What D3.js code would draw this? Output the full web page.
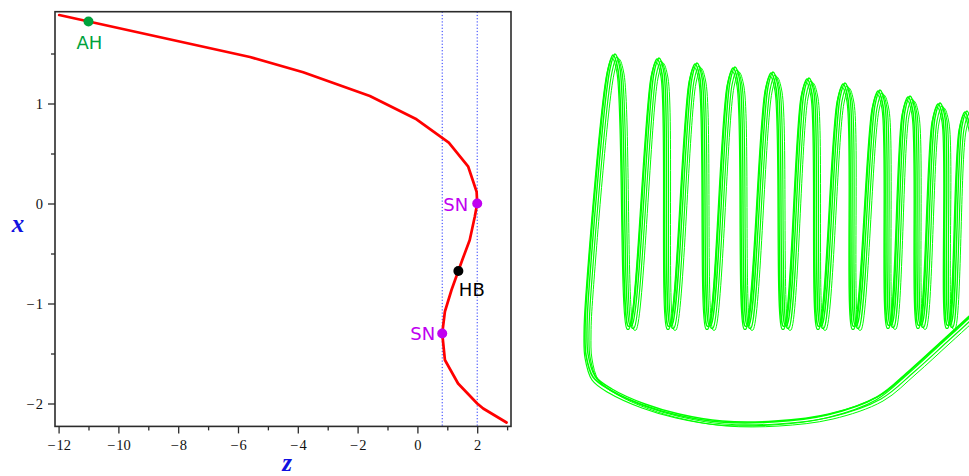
<!DOCTYPE html>
<html>
<head>
<meta charset="utf-8">
<script src="https://cdn.jsdelivr.net/npm/d3@7"></script>
<style>
  html, body { margin: 0; padding: 0; background: #fff; }
  svg { display: block; }
</style>
</head>
<body>
<svg id="chart" width="969" height="476"></svg>
<script>
// ---- Equilibrium branch: x as a function of the parameter z ----
const branchZ = [-11.98, -5.60, -3.82, -1.59, -0.03, 1.05, 1.70, 1.98, 2.00, 1.92, 1.75, 1.50, 1.14, 0.92, 0.83, 0.92, 1.36, 2.00, 2.20, 2.98];
const branchX = [1.885, 1.465, 1.312, 1.075, 0.842, 0.608, 0.368, 0.118, 0.000, -0.130, -0.365, -0.565, -0.865, -1.080, -1.300, -1.565, -1.800, -2.000, -2.050, -2.190];

// Special points on the branch
const pointNames = ["AH", "SN", "HB", "SN"];
const pointZ = [-11.0, 2.0, 1.37, 0.83];
const pointX = [1.82, 0.0, -0.675, -1.30];

// Vertical guides through the two saddle-node values
const guideZ = [0.83, 2.0];

// Axis ticks
const xMajorTicks = [-12, -10, -8, -6, -4, -2, 0, 2];
const xMinorTicks = [-11, -9, -7, -5, -3, -1, 1, 3];
const yMajorTicks = [-2, -1, 0, 1];
const yMinorTicks = [-1.5, -0.5, 0.5, 1.5];

// ---- Relaxation-oscillation trajectory (phase portrait, arbitrary units) ----
const peakU   = [29, 73, 111, 149, 187, 223, 259, 294, 324, 354, 381];
const peakV   = [369, 365, 360, 356, 351, 345, 340, 333, 327, 320, 312];
const troughU = [44, 84, 123, 161, 199, 234, 269, 304, 334, 363];
const troughV = [98, 98, 98, 98, 98, 98, 98, 99, 99, 99];
const returnU = [406, 401, 383, 359, 326, 293, 243, 189, 136, 93, 59, 26, 9, 2, 1, 3];
const returnV = [174, 124, 106, 84, 54, 27, 9, 2, 2, 9, 19, 34, 47, 69, 94, 134];

const svg = d3.select("#chart");

// ================= Left panel =================
const frame = { left: 55, right: 511, top: 11.7, bottom: 426.4 };
const xS = d3.scaleLinear().domain([-12.12, 3.13]).range([frame.left, frame.right]);
const yS = d3.scaleLinear().domain([-2.229, 1.918]).range([frame.bottom, frame.top]);

const axisColor = "#2b2b2b";
const tickFont = "'Liberation Serif', 'Times New Roman', serif";
const fmt = v => v < 0 ? "\u2212\u200a" + Math.abs(v) : String(v);

const left = svg.append("g");

const xAxis = d3.axisBottom(xS).tickValues(xMajorTicks).tickSize(7).tickPadding(6).tickFormat(fmt);
const xAxisMinor = d3.axisBottom(xS).tickValues(xMinorTicks).tickSize(4).tickFormat("");
const yAxis = d3.axisLeft(yS).tickValues(yMajorTicks).tickSize(7).tickPadding(5).tickFormat(fmt);
const yAxisMinor = d3.axisLeft(yS).tickValues(yMinorTicks).tickSize(4).tickFormat("");

function styleAxis(g) {
  g.select(".domain").remove();
  g.selectAll(".tick line").attr("stroke", axisColor).attr("stroke-width", 1.3);
  g.selectAll(".tick text")
    .attr("fill", "#111")
    .style("font-family", tickFont)
    .style("font-size", "14.5px");
}

left.append("g").attr("transform", `translate(0,${frame.bottom})`).call(xAxis).call(styleAxis);
left.append("g").attr("transform", `translate(0,${frame.bottom})`).call(xAxisMinor).call(styleAxis);
left.append("g").attr("transform", `translate(${frame.left},0)`).call(yAxis).call(styleAxis);
left.append("g").attr("transform", `translate(${frame.left},0)`).call(yAxisMinor).call(styleAxis);

// dotted guides
left.selectAll("line.guide").data(guideZ).join("line")
  .attr("class", "guide")
  .attr("x1", d => xS(d)).attr("x2", d => xS(d))
  .attr("y1", frame.top).attr("y2", frame.bottom)
  .attr("stroke", "#2233ff")
  .attr("stroke-width", 1)
  .attr("stroke-dasharray", "1.2,2");

// branch curve
const branch = branchZ.map((z, i) => [z, branchX[i]]);
left.append("path")
  .datum(branch)
  .attr("fill", "none")
  .attr("stroke", "#ff0000")
  .attr("stroke-width", 2.7)
  .attr("stroke-linejoin", "round")
  .attr("stroke-linecap", "round")
  .attr("d", d3.line().x(d => xS(d[0])).y(d => yS(d[1])));

// frame box
left.append("rect")
  .attr("x", frame.left).attr("y", frame.top)
  .attr("width", frame.right - frame.left).attr("height", frame.bottom - frame.top)
  .attr("fill", "none").attr("stroke", axisColor).attr("stroke-width", 1.6);

// special points and their labels
const pointColor = { AH: "#00a23c", SN: "#c000f0", HB: "#000000" };
const labelPlace = [
  { dx: 1, dy: 27, anchor: "middle" },
  { dx: -9, dy: 7, anchor: "end" },
  { dx: 0.5, dy: 25, anchor: "start" },
  { dx: -7, dy: 6, anchor: "end" }
];
const pts = pointNames.map((n, i) => ({ name: n, z: pointZ[i], x: pointX[i], place: labelPlace[i] }));

left.selectAll("circle.pt").data(pts).join("circle")
  .attr("class", "pt")
  .attr("cx", d => xS(d.z)).attr("cy", d => yS(d.x))
  .attr("r", 5)
  .attr("fill", d => pointColor[d.name]);

left.selectAll("text.pt").data(pts).join("text")
  .attr("class", "pt")
  .attr("x", d => xS(d.z) + d.place.dx)
  .attr("y", d => yS(d.x) + d.place.dy)
  .attr("text-anchor", d => d.place.anchor)
  .attr("fill", d => pointColor[d.name])
  .style("font-family", "'DejaVu Sans', sans-serif")
  .style("font-size", "18px")
  .text(d => d.name);

// axis titles
const titleStyle = sel => sel
  .attr("fill", "#1010e0")
  .style("font-family", tickFont)
  .style("font-weight", "bold")
  .style("font-style", "italic")
  .style("font-size", "25px");

left.append("text").attr("x", 287).attr("y", 471).attr("text-anchor", "middle").call(titleStyle).text("z");
left.append("text").attr("x", 18).attr("y", 232).attr("text-anchor", "middle").call(titleStyle).text("x");

// ================= Right panel =================
const uS = d3.scaleLinear().domain([0, 385]).range([584, 969]);
const vS = d3.scaleLinear().domain([0, 370]).range([424, 54]);

// one closed cycle: spikes from left to right, then the slow return arc
const cycle = [];
peakU.forEach((pu, i) => {
  const pv = peakV[i];
  cycle.push([pu - 5, pv - 15], [pu, pv], [pu + 5, pv - 15]);
  if (i < troughU.length) {
    cycle.push([troughU[i], troughV[i]], [troughU[i] + 2, troughV[i]]);
  }
});
returnU.forEach((u, i) => cycle.push([u, returnV[i]]));

const orbit = d3.line()
  .x(d => uS(d[0])).y(d => vS(d[1]))
  .curve(d3.curveCatmullRomClosed.alpha(0.5));

// several nearby passes of the orbit
const passes = [[0, 0, 1.6], [4, 2, 1.2], [2, -1, 1.4], [-1, 3, 1.2], [6, 4, 1.0]];
svg.append("g").selectAll("path").data(passes).join("path")
  .attr("transform", d => `translate(${d[0]},${d[1]})`)
  .attr("d", orbit(cycle))
  .attr("fill", "none")
  .attr("stroke", "#00ff00")
  .attr("stroke-width", d => d[2]);
</script>
</body>
</html>
